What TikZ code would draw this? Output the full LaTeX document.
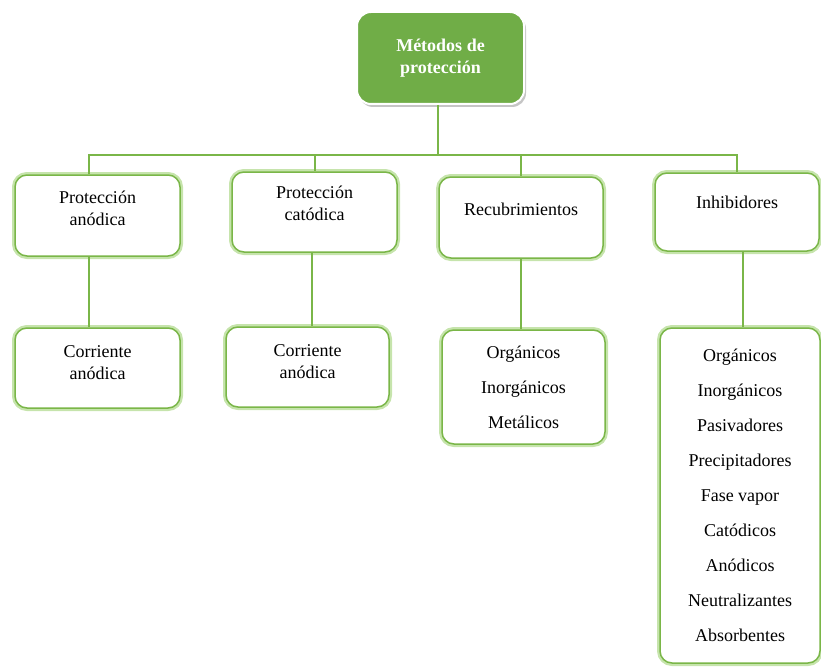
\documentclass[tikz,border=0pt]{standalone}
\usepackage{fontspec}
\setmainfont{Liberation Serif}
\usetikzlibrary{shadows}
\usepackage{xcolor}
\definecolor{G0}{HTML}{70AD47}
\definecolor{G1}{HTML}{7AB648}
\definecolor{G2}{HTML}{C6E4AC}

\begin{document}
\begin{tikzpicture}[x=1pt,y=-1pt,line width=1.5pt]

\tikzset{
box/.style = {draw=G1, fill=white, rounded corners=12pt, inner sep=0pt, align=center,
  font=\fontsize{18}{22}\selectfont, preaction={draw=G2, line width=6pt}},
head/.style = {draw=white, fill=G0, line width=2pt, rounded corners=14pt, inner sep=0pt,
  align=center, text=white, font=\bfseries\fontsize{18}{22}\selectfont,
  drop shadow={shadow xshift=2pt, shadow yshift=-3pt, fill=black!45}},
list/.style = {box, font=\fontsize{18}{35}\selectfont},
link/.style = {draw=G1, line width=2pt}
}

\useasboundingbox (0,0) rectangle (821,666);

\node[head, minimum width=167pt, minimum height=92pt] (top) at (440.5,58) {M\'etodos de\\protecci\'on};

\node[box, minimum width=165pt, minimum height=81pt, text depth=14pt] (anod) at (97.5,215.5) {Protecci\'on\\an\'odica};
\node[box, minimum width=165pt, minimum height=80pt, text depth=17pt] (catod) at (314.5,212) {Protecci\'on\\cat\'odica};
\node[box, minimum width=164pt, minimum height=81pt, text depth=17pt] (recub) at (521,217.5) {Recubrimientos};
\node[box, minimum width=164pt, minimum height=78pt, text depth=20pt] (inhib) at (737,212) {Inhibidores};

\node[box, minimum width=165pt, minimum height=80pt, text depth=10pt] (corr_a) at (97.5,368) {Corriente\\an\'odica};
\node[box, minimum width=163pt, minimum height=80pt, text depth=10pt] (corr_c) at (307.5,367) {Corriente\\an\'odica};
\node[list, minimum width=163pt, minimum height=114pt] (recub_l) at (523.5,387) {Org\'anicos\\Inorg\'anicos\\Met\'alicos};
\node[list, minimum width=160pt, minimum height=335pt] (inhib_l) at (740,495.5)
  {Org\'anicos\\Inorg\'anicos\\Pasivadores\\Precipitadores\\Fase vapor\\Cat\'odicos\\An\'odicos\\Neutralizantes\\Absorbentes};

\coordinate (bar) at (438,155);

\draw[link] (top.south -| bar) -- (bar);
\draw[link] ([xshift=-9pt]anod.north) |- (bar) -| (inhib.north);
\draw[link] (bar -| catod.north) -- (catod.north);
\draw[link] (bar -| recub.north) -- (recub.north);

\draw[link] ([xshift=-9pt]anod.south) -- ([xshift=-9pt]corr_a.north);
\draw[link] (catod.south -| 312,0) -- (corr_c.north -| 312,0);
\draw[link] (recub.south) -- (recub.south |- recub_l.north);
\draw[link] (inhib.south -| 743,0) -- (inhib_l.north -| 743,0);

\end{tikzpicture}
\end{document}
